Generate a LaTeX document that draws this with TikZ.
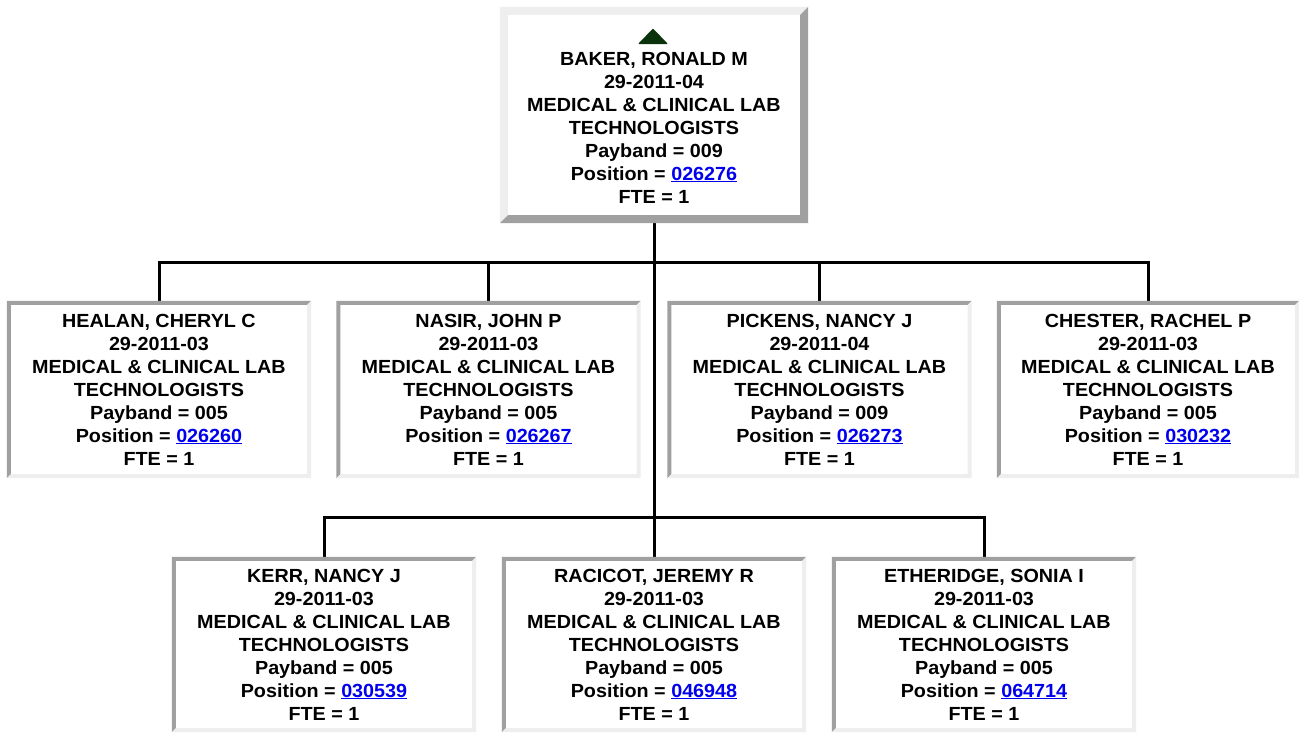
\documentclass[tikz,border=0pt]{standalone}
\usepackage{fontspec}
\setmainfont{Liberation Sans}[FakeStretch=1.04]
\definecolor{bdark}{HTML}{A0A0A0}
\definecolor{blight}{HTML}{EEEEEE}
\definecolor{linkblue}{HTML}{0000EE}
\definecolor{trigreen}{HTML}{0B330B}
\newcommand\cardfont{\fontsize{19}{23}\selectfont\bfseries}
\newcommand\poslink[1]{\textcolor{linkblue}{\setbox0\hbox{#1}\rlap{\rule[-2.2pt]{\wd0}{1.4pt}}\box0}}
% bevel frame: node, width, top-left colour, bottom-right colour
\newcommand\bevelframe[4]{%
  \fill[#3] (#1.south west) -- (#1.north west) -- (#1.north east)
    -- ([xshift=-#2,yshift=-#2]#1.north east) -- ([xshift=#2,yshift=-#2]#1.north west)
    -- ([xshift=#2,yshift=#2]#1.south west) -- cycle;
  \fill[#4] (#1.south west) -- (#1.south east) -- (#1.north east)
    -- ([xshift=-#2,yshift=-#2]#1.north east) -- ([xshift=-#2,yshift=#2]#1.south east)
    -- ([xshift=#2,yshift=#2]#1.south west) -- cycle;}
\begin{document}
\begin{tikzpicture}[x=1pt,y=-1pt,
  card/.style={rectangle, fill=white, inner sep=0pt, align=center, font=\cardfont,
    minimum width=304pt, text=black},
  rowone/.style={card, minimum height=177pt},
  rowtwo/.style={card, minimum height=175pt},
  cardtext/.style={inner sep=0pt, align=center, font=\cardfont, text=black},
  conn/.style={line width=3pt, black}]
\useasboundingbox (0,0) rectangle (1299,740);
\fill[white] (0,0) rectangle (1299,740);

% top box
\node[card, minimum width=308pt, minimum height=216pt] (baker) at (654,115) {};
\node[cardtext] (bakertxt) at (654,127.5) {BAKER, RONALD M\\29-2011-04\\MEDICAL \& CLINICAL LAB\\TECHNOLOGISTS\\Payband = 009\\Position = \poslink{026276}\\FTE = 1};
\fill[trigreen, rounded corners=1pt] (653,28.5) -- (668,44) -- (638,44) -- cycle;

% row 1
\node[rowone] (healan) at (159,389.5) {HEALAN, CHERYL C\\29-2011-03\\MEDICAL \& CLINICAL LAB\\TECHNOLOGISTS\\Payband = 005\\Position = \poslink{026260}\\FTE = 1};
\node[rowone] (nasir) at (488.5,389.5) {NASIR, JOHN P\\29-2011-03\\MEDICAL \& CLINICAL LAB\\TECHNOLOGISTS\\Payband = 005\\Position = \poslink{026267}\\FTE = 1};
\node[rowone] (pickens) at (819.5,389.5) {PICKENS, NANCY J\\29-2011-04\\MEDICAL \& CLINICAL LAB\\TECHNOLOGISTS\\Payband = 009\\Position = \poslink{026273}\\FTE = 1};
\node[rowone, minimum width=302pt] (chester) at (1148,389.5) {CHESTER, RACHEL P\\29-2011-03\\MEDICAL \& CLINICAL LAB\\TECHNOLOGISTS\\Payband = 005\\Position = \poslink{030232}\\FTE = 1};

% row 2
\node[rowtwo] (kerr) at (324,644.5) {KERR, NANCY J\\29-2011-03\\MEDICAL \& CLINICAL LAB\\TECHNOLOGISTS\\Payband = 005\\Position = \poslink{030539}\\FTE = 1};
\node[rowtwo] (racicot) at (654,644.5) {RACICOT, JEREMY R\\29-2011-03\\MEDICAL \& CLINICAL LAB\\TECHNOLOGISTS\\Payband = 005\\Position = \poslink{046948}\\FTE = 1};
\node[rowtwo] (etheridge) at (984,644.5) {ETHERIDGE, SONIA I\\29-2011-03\\MEDICAL \& CLINICAL LAB\\TECHNOLOGISTS\\Payband = 005\\Position = \poslink{064714}\\FTE = 1};

% connectors
\coordinate (busone) at (654,262.5);
\coordinate (bustwo) at (654,517);
\draw[conn] (baker.south) -- (bustwo);
\draw[conn] (healan.north) |- (busone) -| (chester.north);
\draw[conn] (nasir.north) -- (nasir.north |- busone);
\draw[conn] (pickens.north) -- (pickens.north |- busone);
\draw[conn] (kerr.north) |- (bustwo) -| (etheridge.north);
\draw[conn] (racicot.north) -- (bustwo);

% frames
\bevelframe{baker}{8pt}{blight}{bdark}
\foreach \n in {healan,nasir,pickens,chester,kerr,racicot,etheridge}{
  \bevelframe{\n}{4pt}{bdark}{blight}
}
\end{tikzpicture}
\end{document}
